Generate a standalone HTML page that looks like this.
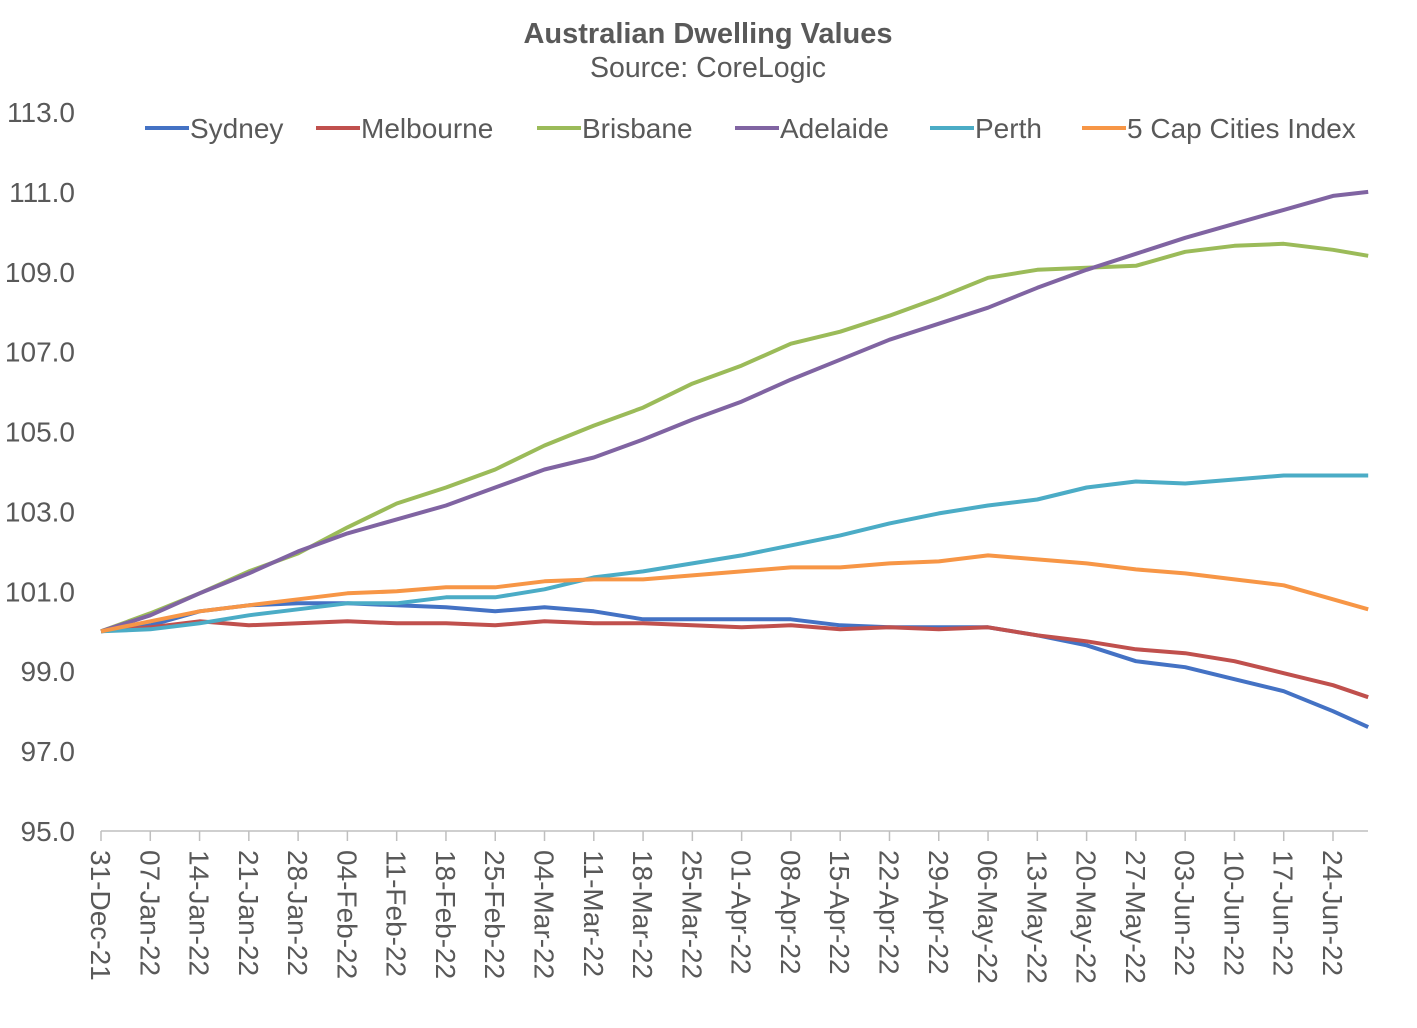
<!DOCTYPE html>
<html><head><meta charset="utf-8"><style>
html,body{margin:0;padding:0;background:#fff;}
svg{display:block;font-family:"Liberation Sans",Arial,sans-serif;}
</style></head><body>
<svg id="chart" width="1417" height="1028" viewBox="0 0 1417 1028">
<text x="708" y="43" text-anchor="middle" font-size="29" font-weight="bold" fill="#595959">Australian Dwelling Values</text>
<text x="708" y="77" text-anchor="middle" font-size="28.5" fill="#595959">Source: CoreLogic</text>
<g id="axes"></g>
<g id="series"></g>
<g id="legend"></g>
</svg>
<script>
const days = [0,7,14,21,28,35,42,49,56,63,70,77,84,91,98,105,112,119,126,133,140,147,154,161,168,175,180];
const tickLabels = ["31-Dec-21","07-Jan-22","14-Jan-22","21-Jan-22","28-Jan-22","04-Feb-22","11-Feb-22","18-Feb-22","25-Feb-22","04-Mar-22","11-Mar-22","18-Mar-22","25-Mar-22","01-Apr-22","08-Apr-22","15-Apr-22","22-Apr-22","29-Apr-22","06-May-22","13-May-22","20-May-22","27-May-22","03-Jun-22","10-Jun-22","17-Jun-22","24-Jun-22"];
const yTicks = [95,97,99,101,103,105,107,109,111,113];
const seriesNames = ["Sydney","Melbourne","Brisbane","Adelaide","Perth","5 Cap Cities Index"];
const sydney = [100,100.15,100.5,100.65,100.7,100.7,100.65,100.6,100.5,100.6,100.5,100.3,100.3,100.3,100.3,100.15,100.1,100.1,100.1,99.9,99.65,99.25,99.1,98.8,98.5,98.0,97.6];
const melbourne = [100,100.1,100.25,100.15,100.2,100.25,100.2,100.2,100.15,100.25,100.2,100.2,100.15,100.1,100.15,100.05,100.1,100.05,100.1,99.9,99.75,99.55,99.45,99.25,98.95,98.65,98.35];
const brisbane = [100,100.45,100.95,101.5,101.95,102.6,103.2,103.6,104.05,104.65,105.15,105.6,106.2,106.65,107.2,107.5,107.9,108.35,108.85,109.05,109.1,109.15,109.5,109.65,109.7,109.55,109.4];
const adelaide = [100,100.4,100.95,101.45,102.0,102.45,102.8,103.15,103.6,104.05,104.35,104.8,105.3,105.75,106.3,106.8,107.3,107.7,108.1,108.6,109.05,109.45,109.85,110.2,110.55,110.9,111.0];
const perth = [100,100.05,100.2,100.4,100.55,100.7,100.7,100.85,100.85,101.05,101.35,101.5,101.7,101.9,102.15,102.4,102.7,102.95,103.15,103.3,103.6,103.75,103.7,103.8,103.9,103.9,103.9];
const capCities = [100,100.25,100.5,100.65,100.8,100.95,101.0,101.1,101.1,101.25,101.3,101.3,101.4,101.5,101.6,101.6,101.7,101.75,101.9,101.8,101.7,101.55,101.45,101.3,101.15,100.8,100.55];
const colors = ["#4472C4","#C0504D","#9BBB59","#8064A2","#4BACC6","#F79646"];
const allSeries = [sydney,melbourne,brisbane,adelaide,perth,capCities];

const NS="http://www.w3.org/2000/svg";
const X0=101, PXDAY=7.04, Y0=831, YTOP=112;
const xs = d => X0 + d*PXDAY;
const ys = v => Y0 - (v-95)/(113-95)*(Y0-YTOP);
function mk(tag, attrs, parent){const e=document.createElementNS(NS,tag);for(const k in attrs)e.setAttribute(k,attrs[k]);parent.appendChild(e);return e;}
const axes=document.getElementById('axes');
const xAxis=mk('line',{x1:X0,y1:Y0,x2:1368,y2:Y0,stroke:'#bfbfbf','stroke-width':1.5},axes);


yTicks.forEach(v=>{
  const t=mk('text',{x:75,y:ys(v)+10,'text-anchor':'end','font-size':28,fill:'#595959'},axes);
  t.textContent=v.toFixed(1);
  
  
});
tickLabels.forEach((lab,i)=>{
  const x=xs(i*7);
  const tk=mk('line',{x1:x,y1:Y0,x2:x,y2:Y0+10,stroke:'#bfbfbf','stroke-width':1.5},axes);
  
  
  const t=mk('text',{x:0,y:0,'font-size':28,fill:'#595959',transform:`translate(${x-10},850) rotate(90)`},axes);
  t.textContent=lab;
  
  
});
const sg=document.getElementById('series');
allSeries.forEach((s,i)=>{
  const pts=s.map((v,j)=>xs(days[j]).toFixed(1)+','+ys(v).toFixed(1)).join(' ');
  const p=mk('polyline',{points:pts,fill:'none',stroke:colors[i],'stroke-width':4,'stroke-linejoin':'round'},sg);
  
  
});
const lg=document.getElementById('legend');
const legX=[145,316,537,735,930,1082];
seriesNames.forEach((n,i)=>{
  const g=mk('g',{},lg);
  
  
  mk('line',{x1:legX[i],y1:128,x2:legX[i]+44,y2:128,stroke:colors[i],'stroke-width':4},g);
  const t=mk('text',{x:legX[i]+45,y:138,'font-size':28,fill:'#595959'},g);
  t.textContent=n;
});
</script>
</body></html>
